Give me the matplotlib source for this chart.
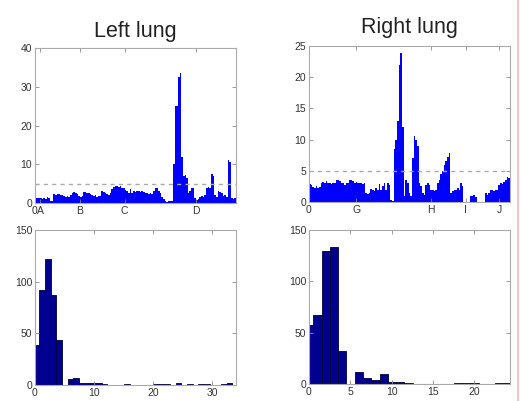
import matplotlib
matplotlib.use('Agg')
import matplotlib.pyplot as plt
import numpy as np
from matplotlib.lines import Line2D

plt.rcParams['font.family'] = ['Liberation Sans', 'DejaVu Sans']

# Profils le long du poumon
left_profile = [1.2, 1.2, 1.3, 1.2, 1.0, 1.4, 1.0, 1.5, 1.2, 0.5, 0.5,
                2.3, 2.0, 2.2, 2.4, 2.1, 2.0, 1.7, 1.5, 1.8, 1.6, 2.0,
                2.7, 2.9, 2.5, 2.2, 1.9, 1.6, 1.8, 2.8, 2.9, 2.7, 2.5, 2.2,
                2.1, 1.8, 2.0, 1.5, 1.7, 1.9, 3.0, 2.8, 2.5, 2.3, 2.0, 2.6, 3.5,
                4.2, 4.4, 4.3, 4.1, 4.4, 4.0, 3.8, 3.4, 3.0, 2.7, 3.5, 2.5,
                3.1, 2.9, 3.2, 3.0, 2.8, 3.1, 2.9, 2.7, 2.6, 2.3, 2.5, 2.2,
                3.0, 3.8, 4.0, 3.2, 2.6, 1.5, 1.0, 0.5, 0.3, 0.4, 0.5, 0.6,
                10.0, 25.0, 25.0, 32.5, 33.5, 12.0, 7.0, 7.3, 6.5, 2.5, 3.0,
                4.0, 3.8, 1.2, 0.8, 1.0, 1.5, 1.8, 1.6, 2.0, 3.8, 4.2, 4.0,
                7.5, 7.0, 2.0, 1.5, 3.0, 2.8, 2.5, 1.8, 2.0, 1.5, 11.0, 10.5,
                1.2, 1.0, 1.3]
right_profile = [2.9, 2.8, 2.4, 2.3, 2.5, 2.2, 2.4, 3.0, 3.2, 3.0, 3.3, 3.0,
                 3.0, 2.9, 3.1, 3.0, 3.5, 3.5, 3.3, 3.0, 3.0, 2.8, 3.1, 3.0, 3.5,
                 3.5, 3.4, 3.0, 3.2, 3.0, 3.1, 3.0, 2.9, 3.0, 1.5, 1.3, 1.5,
                 2.1, 2.0, 1.8, 2.2, 2.0, 2.9, 2.0, 2.5, 3.0, 2.0, 3.0, 2.8,
                 0.3, 0.2, 8.5, 10.0, 13.0, 22.0, 23.8, 12.0, 1.0, 3.5, 3.0,
                 1.5, 1.0, 7.0, 10.5, 10.0, 9.0, 3.0, 2.5, 1.5, 1.2,
                 2.8, 3.0, 2.8, 2.0, 2.0, 1.8, 2.0, 3.0, 3.5, 4.5, 5.0, 6.0, 6.5,
                 7.2, 7.8, 1.5, 1.8, 2.0, 2.0, 2.2, 2.0, 3.0, 2.5,
                 0.0, 0.0, 0.0, 0.0, 1.0, 1.0, 1.2, 0.8, 0.0, 0.0, 0.0, 0.0, 0.0,
                 1.5, 1.2, 1.5, 2.0, 2.0, 1.8, 2.0, 2.0, 2.8, 3.0, 2.9,
                 3.2, 3.5, 4.0, 3.8]

left_ticks = [0, 3, 27, 54, 97]
left_labels = ['0', 'A', 'B', 'C', 'D']
right_ticks = [0, 28.4, 73.4, 94.4, 114.4]
right_labels = ['0', 'G', 'H', 'I', 'J']
threshold = 5

# Histogrammes
left_centers = [0.25 + 0.96 * k for k in range(36)]
left_counts = [39, 92, 122, 87, 44, 0, 6, 7, 2, 2, 2, 2, 1, 0, 0, 0, 1, 0,
               0, 0, 0, 1, 1, 1, 0, 2, 0, 1, 0, 1, 1, 0, 0, 1, 2, 0]
right_centers = [0.03 + 1.0 * k for k in range(25)]
right_counts = [57, 67, 130, 133, 32, 0, 12, 6, 4, 10, 2, 2, 1, 0, 0, 0, 0,
                0, 1, 1, 1, 0, 0, 1, 1]

W, H = 521, 401
fig = plt.figure(figsize=(W / 100, H / 100), dpi=100)


def style(ax):
    ax.tick_params(direction='in', top=True, right=True, length=3, width=0.6,
                   labelsize=7.5, colors='#888888', labelcolor='#333333', pad=2)
    for s in ax.spines.values():
        s.set_color('#aaaaaa')
        s.set_linewidth(0.8)


def box(l, t, r, b):
    return [l / W, (H - b) / H, (r - l) / W, (b - t) / H]


ax1 = fig.add_axes(box(35, 48, 236, 203))
ax1.bar(np.arange(len(left_profile)), left_profile, width=1, align='edge',
        color='#0000ff', linewidth=0)
ax1.axhline(threshold, color='#aaaaaa', linestyle=(0, (3, 3)), linewidth=1)
ax1.set_xlim(0, len(left_profile))
ax1.set_ylim(0, 40)
ax1.set_yticks([0, 10, 20, 30, 40])
ax1.set_xticks(left_ticks)
ax1.set_xticklabels(left_labels)
style(ax1)
ax1.set_title('Left lung', fontsize=15.5, pad=8, color='#222222')

ax2 = fig.add_axes(box(309, 46, 510, 202))
ax2.bar(np.arange(len(right_profile)), right_profile, width=1, align='edge',
        color='#0000ff', linewidth=0)
ax2.axhline(threshold, color='#aaaaaa', linestyle=(0, (3, 3)), linewidth=1)
ax2.set_xlim(0, len(right_profile))
ax2.set_ylim(0, 25)
ax2.set_yticks([0, 5, 10, 15, 20, 25])
ax2.set_xticks(right_ticks)
ax2.set_xticklabels(right_labels)
style(ax2)
ax2.set_title('Right lung', fontsize=15.5, pad=9, color='#222222')

ax3 = fig.add_axes(box(35, 230, 236, 385))
ax3.bar(left_centers, left_counts, width=0.96, color='#000090',
        edgecolor='#000033', linewidth=0.6)
ax3.set_xlim(0, 34)
ax3.set_ylim(0, 150)
ax3.set_xticks([0, 10, 20, 30])
ax3.set_yticks([0, 50, 100, 150])
style(ax3)

ax4 = fig.add_axes(box(309, 230, 510, 384))
ax4.bar(right_centers, right_counts, width=1.0, color='#000090',
        edgecolor='#000033', linewidth=0.6)
ax4.set_xlim(0, 24.3)
ax4.set_ylim(0, 150)
ax4.set_xticks([0, 5, 10, 15, 20])
ax4.set_yticks([0, 50, 100, 150])
style(ax4)

fig.add_artist(Line2D([518 / W, 518 / W], [0, 1], color='#f2b8b8', linewidth=1.2))

fig.savefig('out.png', dpi=100)
